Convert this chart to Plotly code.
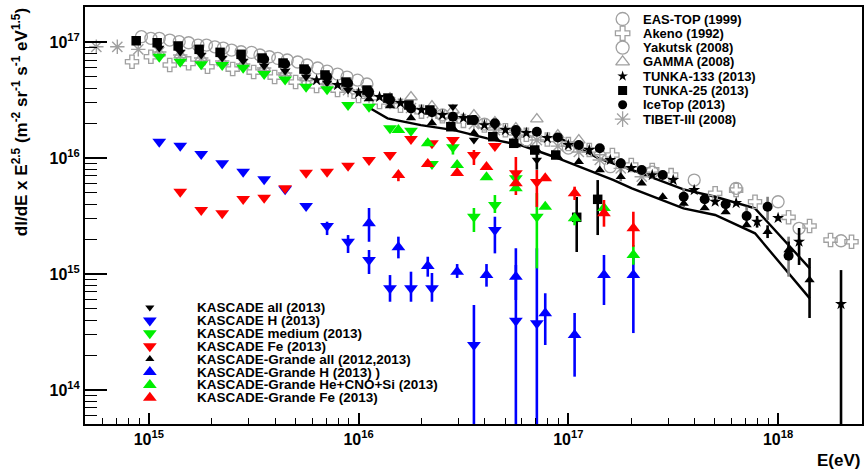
import numpy as np
import plotly.graph_objects as go

# ---------------- data: log10(E/eV) and log10(flux * E^2.5) ----------------
eastop_lgE = [14.965, 15.01, 15.05, 15.10, 15.145, 15.19, 15.235, 15.275, 15.315, 15.355, 15.395, 15.44,
              15.49, 15.53, 15.575, 15.615, 15.66, 15.71, 15.755, 15.805, 15.85, 15.9, 15.945, 15.995, 16.04]
eastop_lgF = [17.046, 17.032, 17.032, 17.017, 17.003, 16.994, 16.974, 16.974, 16.959, 16.948, 16.931, 16.916,
              16.911, 16.888, 16.873, 16.859, 16.845, 16.828, 16.802, 16.776, 16.75, 16.724, 16.698, 16.672, 16.638]

akeno_lgE = [14.92, 15.01, 15.10, 15.19, 15.28, 15.4, 15.5, 15.6, 15.7, 15.8, 15.9, 16.0, 16.1, 16.2, 16.3, 16.4,
             16.5, 16.6, 16.7, 16.8, 16.9, 17.0, 17.1, 17.21, 17.3, 17.4, 17.49, 17.7, 17.8, 17.89, 18.05, 18.15,
             18.25, 18.35]
akeno_lgF = [16.83, 16.873, 16.802, 16.816, 16.787, 16.767, 16.741, 16.698, 16.655, 16.621, 16.586, 16.534,
             16.483, 16.45, 16.40, 16.36, 16.32, 16.28, 16.24, 16.2, 16.16, 16.12, 16.07, 16.026, 15.94, 15.897,
             15.853, 15.696, 15.724, 15.623, 15.489, 15.414, 15.293, 15.278]

yakutsk_lgE = [16.4, 16.6, 16.8, 17.0, 17.2, 17.4, 17.6, 17.8, 18.0, 18.1, 18.3]
yakutsk_lgF = [16.371, 16.293, 16.155, 16.086, 15.925, 15.879, 15.81, 15.739, 15.623, 15.394, 15.287]

gamma_lgE = [15.05, 15.15, 15.25, 15.35, 15.45, 15.55, 15.65, 15.75, 15.85, 15.95, 16.05, 16.15, 16.25, 16.35,
             16.45, 16.55, 16.65, 16.75, 16.85, 16.95, 17.05, 17.15]
gamma_lgF = [16.905, 16.888, 16.862, 16.828, 16.81, 16.776, 16.733, 16.69, 16.655, 16.603, 16.56, 16.517, 16.526,
             16.448, 16.414, 16.371, 16.31, 16.259, 16.336, 16.198, 16.155, 16.052]

tibet_lgE = [14.75, 14.85, 14.95, 15.05, 15.15, 15.25, 15.35, 15.45, 15.55, 15.65, 15.75, 15.85, 15.95, 16.05,
             16.15, 16.25, 16.35, 16.45, 16.55, 16.65, 16.75, 16.85, 16.95, 17.05, 17.15, 17.25, 17.35]
tibet_lgF = [16.959, 16.959, 16.937, 16.914, 16.888, 16.862, 16.836, 16.81, 16.776, 16.733, 16.69, 16.638, 16.586,
             16.534, 16.483, 16.431, 16.388, 16.345, 16.293, 16.241, 16.198, 16.155, 16.103, 16.052, 15.983, 15.911,
             15.839]

tunka133_lgE = [15.8, 15.9, 16.0, 16.1, 16.2, 16.3, 16.4, 16.5, 16.6, 16.7, 16.8, 16.9, 17.0, 17.1, 17.2, 17.3,
                17.4, 17.5, 17.6, 17.7, 17.8, 17.9, 18.0, 18.1, 18.3]
tunka133_lgF = [16.672, 16.629, 16.56, 16.526, 16.474, 16.414, 16.371, 16.345, 16.284, 16.241, 16.216, 16.172,
                16.112, 16.069, 15.983, 15.914, 15.853, 15.81, 15.724, 15.623, 15.612, 15.451, 15.483, 15.278, 14.741]
tunka133_hi = [None] * 21 + [15.50, None, 15.397, 15.034]
tunka133_lo = [None] * 21 + [15.40, None, 15.078, 13.0]

tunka25_lgE = [14.94, 15.04, 15.14, 15.24, 15.34, 15.44, 15.54, 15.64, 15.74, 15.84, 15.94, 16.04, 16.14, 16.24,
               16.34, 16.44, 16.54, 16.64, 16.74, 16.84, 16.94, 17.04, 17.14]
tunka25_lgF = [17.011, 16.994, 16.966, 16.937, 16.911, 16.894, 16.862, 16.819, 16.767, 16.716, 16.655, 16.586,
               16.517, 16.457, 16.414, 16.27, 16.328, 16.184, 16.127, 16.069, 16.026, 15.489, 15.644]
tunka25_hi = [None] * 21 + [15.664, 15.81]
tunka25_lo = [None] * 21 + [15.19, 15.336]

icetop_lgE = [15.55, 15.65, 15.75, 15.85, 15.95, 16.05, 16.15, 16.25, 16.35, 16.45, 16.55, 16.65, 16.75, 16.85,
              16.95, 17.05, 17.15, 17.25, 17.35, 17.45, 17.55, 17.65, 17.75, 17.85, 17.95, 18.05]
icetop_lgF = [16.851, 16.81, 16.759, 16.70, 16.644, 16.572, 16.50, 16.428, 16.394, 16.356, 16.328, 16.30, 16.241,
              16.227, 16.178, 16.112, 16.084, 15.954, 15.897, 15.853, 15.666, 15.644, 15.601, 15.50, 15.58, 15.158]
icetop_hi = [None] * 17 + [16.0, None, None, 15.741, None, None, 15.58, 15.666, 15.322]
icetop_lo = [None] * 17 + [15.80, None, None, 15.578, None, None, 15.408, 15.466, 14.977]

kas_lgE = [15.05, 15.15, 15.25, 15.35, 15.45, 15.55, 15.65, 15.75, 15.85, 15.95, 16.05, 16.15, 16.25, 16.35,
           16.45, 16.55, 16.65, 16.75, 16.85]
kas_all_lgF = [16.948, 16.914, 16.888, 16.862, 16.836, 16.793, 16.75, 16.698, 16.647, 16.586, 16.534, 16.483,
               16.431, 16.397, 16.442, 16.155, 16.276, 16.198, 15.983]
kas_all_hi = [None] * 17 + [16.25, 16.05]
kas_all_lo = [None] * 17 + [16.10, 15.90]

kas_h_lgE = [15.05, 15.15, 15.25, 15.35, 15.45, 15.55, 15.65, 15.75, 15.85, 15.95, 16.05, 16.15, 16.25, 16.35,
             16.55, 16.65, 16.75, 16.85]
kas_h_lgF = [16.141, 16.106, 16.034, 15.954, 15.882, 15.816, 15.73, 15.586, 15.414, 15.278, 15.121, 14.877,
             14.877, 14.877, 14.388, 15.379, 14.597, 14.575]
kas_h_hi = [None] * 8 + [15.451, 15.336, 15.207, 14.991, 15.02, 15.009, 14.733, 15.494, 15.222, 15.222]
kas_h_lo = [None] * 8 + [15.336, 15.181, 15.0, 14.761, 14.761, 14.761, 13.0, 15.178, 13.0, 13.0]

kas_med_lgF = [16.873, 16.83, 16.808, 16.802, 16.778, 16.724, 16.678, 16.615, 16.592, 16.457, 16.442, 16.256,
               16.235, 15.948, 16.092, 15.494, 15.595, 15.825, 15.494]
kas_med_hi = [None] * 14 + [16.12, 15.569, 15.681, 15.86, 15.698]
kas_med_lo = [None] * 14 + [16.03, 15.362, 15.526, 15.79, 15.049]

kas_fe_lgE = [15.15, 15.25, 15.35, 15.45, 15.55, 15.65, 15.75, 15.85, 15.95, 16.05, 16.15, 16.25, 16.35, 16.45,
              16.55, 16.65, 16.75, 16.85]
kas_fe_lgF = [15.709, 15.552, 15.523, 15.647, 15.658, 15.739, 15.873, 15.882, 15.934, 15.983, 16.026, 16.164,
              16.127, 16.155, 16.026, 16.103, 15.868, 15.793]
kas_fe_hi = [None] * 14 + [16.069, None, 16.009, 15.897]
kas_fe_lo = [None] * 14 + [15.94, None, 15.681, 15.578]

kg_all_lgE = [16.05, 16.15, 16.25, 16.35, 16.45, 16.55, 16.65, 16.75, 16.85, 16.95, 17.05, 17.15, 17.25, 17.35,
              17.45, 17.55, 17.65, 17.75, 17.85, 17.95, 18.05, 18.15]
kg_all_lgF = [16.509, 16.448, 16.345, 16.302, 16.259, 16.216, 16.172, 16.112, 16.069, 16.011, 15.968, 15.897,
              15.839, 15.782, 15.666, 15.609, 15.569, 15.534, 15.422, 15.365, 15.207, 14.948]
kg_all_hi = [None] * 19 + [15.42, 15.28, 15.138]
kg_all_lo = [None] * 19 + [15.31, 15.13, 14.621]

kg_h_lgE = [16.05, 16.19, 16.33, 16.47, 16.61, 16.75, 16.89, 17.03, 17.17, 17.31]
kg_h_lgF = [15.437, 15.23, 15.069, 15.02, 14.991, 14.977, 14.661, 14.474, 14.991, 14.991]
kg_h_hi = [15.569, 15.322, 15.149, 15.086, 15.086, 15.078, 14.834, 14.664, 15.164, 15.164]
kg_h_lo = [15.278, 15.135, 14.977, 14.966, 14.891, 14.776, 14.388, 14.115, 14.733, 14.491]

kg_lgE = [16.19, 16.33, 16.47, 16.61, 16.75, 16.89, 17.03, 17.17, 17.31]
kg_med_lgF = [16.241, 16.127, 15.94, 15.834, 15.739, 15.58, 15.48, 15.569, 15.164]
kg_med_hi = [None] * 6 + [15.52, None, 15.25]
kg_med_lo = [None] * 6 + [15.42, None, 15.08]
kg_fe_lgF = [15.853, 15.948, 15.871, 15.922, 15.782, 15.825, 15.696, 15.523, 15.394]
kg_fe_hi = [15.88, None, None, None, None, None, 15.753, 15.638, 15.537]
kg_fe_lo = [15.80, None, None, None, None, None, 15.638, 15.408, 15.235]

band_low_lgE = [16.043, 16.138, 16.297, 16.455, 16.613, 16.772, 16.931, 17.089, 17.216, 17.303, 17.549, 17.70,
                17.89, 18.151]
band_low_lgF = [16.442, 16.342, 16.284, 16.241, 16.17, 16.112, 16.011, 15.897, 15.81, 15.739, 15.566, 15.509,
                15.351, 14.79]
band_up_lgE = [16.931, 17.145, 17.303, 17.549, 17.70, 17.89, 18.151]
band_up_lgF = [16.198, 15.997, 15.897, 15.73, 15.666, 15.566, 15.049]

top_legend = ["EAS-TOP (1999)", "Akeno (1992)", "Yakutsk (2008)", "GAMMA (2008)", "TUNKA-133 (2013)",
              "TUNKA-25 (2013)", "IceTop (2013)", "TIBET-III (2008)"]
low_legend = ["KASCADE all (2013)", "KASCADE H (2013)", "KASCADE medium (2013)", "KASCADE Fe (2013)",
              "KASCADE-Grande all (2012,2013)", "KASCADE-Grande H (2013) )", "KASCADE-Grande He+CNO+Si (2013)",
              "KASCADE-Grande Fe (2013)"]

# ---------------- styles ----------------
GRAY = "#a0a0a0"
BLUE = "#0000ff"
GREEN = "#00ee00"
RED = "#ff0000"
FONT = "Liberation Sans, Arial, Helvetica, sans-serif"

# plot-area geometry in pixels (for placing decorations)
L, R, T, B = 85, 864, 7, 424
W, H = 866, 476

fig = go.Figure()


def add_series(lgE, lgF, symbol, color, size, hi=None, lo=None, ecolor=None, open_=False, lw=1.3):
    x = 10 ** np.array(lgE, dtype=float)
    y = 10 ** np.array(lgF, dtype=float)
    err = None
    if hi is not None:
        up = [(10 ** h - yy) if h is not None else 0 for h, yy in zip(hi, y)]
        dn = [(yy - 10 ** l) if l is not None else 0 for l, yy in zip(lo, y)]
        err = dict(type="data", symmetric=False, array=up, arrayminus=dn,
                   color=ecolor or color, thickness=2.6, width=0)
    marker = dict(symbol=symbol, size=size, color=color)
    if open_:
        marker["line"] = dict(color=color, width=lw)
    else:
        marker["line"] = dict(width=0)
    fig.add_trace(go.Scatter(x=x, y=y, mode="markers", marker=marker, error_y=err,
                             showlegend=False, hoverinfo="x+y", cliponaxis=True))


# systematic band lines (drawn first so the data sit on top)
for lgE, lgF in [(band_low_lgE, band_low_lgF), (band_up_lgE, band_up_lgF)]:
    fig.add_trace(go.Scatter(x=10 ** np.array(lgE), y=10 ** np.array(lgF), mode="lines",
                             line=dict(color="black", width=2.4), showlegend=False, hoverinfo="skip"))

# grey reference data
add_series(eastop_lgE, eastop_lgF, "circle-open", GRAY, 12, open_=True)
add_series(akeno_lgE, akeno_lgF, "cross-open", GRAY, 11, open_=True)
add_series(yakutsk_lgE, yakutsk_lgF, "circle-open", GRAY, 12, open_=True)
add_series(gamma_lgE, gamma_lgF, "triangle-up-open", GRAY, 11, open_=True)
add_series(tibet_lgE, tibet_lgF, "asterisk-open", GRAY, 12, open_=True, lw=1.4)
# black all-particle data
add_series(tunka133_lgE, tunka133_lgF, "star", "black", 9, tunka133_hi, tunka133_lo)
add_series(tunka25_lgE, tunka25_lgF, "square", "black", 9.5, tunka25_hi, tunka25_lo)
add_series(icetop_lgE, icetop_lgF, "circle", "black", 10, icetop_hi, icetop_lo, ecolor="#808080")

add_series(kas_lgE, kas_all_lgF, "triangle-down", "black", 9, kas_all_hi, kas_all_lo)
add_series(kg_all_lgE, kg_all_lgF, "triangle-up", "black", 9, kg_all_hi, kg_all_lo)
add_series(kas_h_lgE, kas_h_lgF, "triangle-down", BLUE, 12, kas_h_hi, kas_h_lo)
add_series(kas_lgE, kas_med_lgF, "triangle-down", GREEN, 12, kas_med_hi, kas_med_lo)
add_series(kas_fe_lgE, kas_fe_lgF, "triangle-down", RED, 12, kas_fe_hi, kas_fe_lo)
add_series(kg_h_lgE, kg_h_lgF, "triangle-up", BLUE, 12, kg_h_hi, kg_h_lo)
add_series(kg_lgE, kg_med_lgF, "triangle-up", GREEN, 12, kg_med_hi, kg_med_lo)
add_series(kg_lgE, kg_fe_lgF, "triangle-up", RED, 12, kg_fe_hi, kg_fe_lo)

# ---------------- hand-drawn legends on a pixel overlay axis ----------------
top_sym = [("circle-open", GRAY, 13, True), ("cross-open", GRAY, 12, True), ("circle-open", GRAY, 13, True),
           ("triangle-up-open", GRAY, 12, True), ("star", "black", 8, False), ("square", "black", 9, False),
           ("circle", "black", 9, False), ("asterisk-open", GRAY, 13, True)]
low_sym = [("triangle-down", "black", 8), ("triangle-down", BLUE, 12), ("triangle-down", GREEN, 12),
           ("triangle-down", RED, 12), ("triangle-up", "black", 8), ("triangle-up", BLUE, 12),
           ("triangle-up", GREEN, 12), ("triangle-up", RED, 12)]

top_x_mark, top_x_text, top_y0, top_dy = 624, 642, 19, 14.3
low_x_mark, low_x_text, low_y0, low_dy = 150, 195, 307.5, 12.9


def px2paper(px, py):
    return (px - L) / (R - L), (B - py) / (B - T)


annotations = []
for i, (label, (sym, col, sz, op)) in enumerate(zip(top_legend, top_sym)):
    yy = top_y0 + i * top_dy
    fig.add_trace(go.Scatter(x=[top_x_mark], y=[yy], xaxis="x2", yaxis="y2", mode="markers",
                             marker=dict(symbol=sym, size=sz, color=col,
                                         line=dict(color=col, width=1.3 if op else 0)),
                             showlegend=False, hoverinfo="skip"))
    annotations.append(dict(x=top_x_text, y=yy, xref="x2", yref="y2", text="<b>%s</b>" % label,
                            showarrow=False, xanchor="left", yanchor="middle",
                            font=dict(family=FONT, size=13, color="black")))
for i, (label, (sym, col, sz)) in enumerate(zip(low_legend, low_sym)):
    yy = low_y0 + i * low_dy
    fig.add_trace(go.Scatter(x=[low_x_mark], y=[yy], xaxis="x2", yaxis="y2", mode="markers",
                             marker=dict(symbol=sym, size=sz, color=col, line=dict(width=0)),
                             showlegend=False, hoverinfo="skip"))
    annotations.append(dict(x=low_x_text, y=yy, xref="x2", yref="y2", text="<b>%s</b>" % label,
                            showarrow=False, xanchor="left", yanchor="middle",
                            font=dict(family=FONT, size=13.5, color="black")))

tx, ty = px2paper(20, 6)
annotations.append(dict(x=tx, y=ty, xref="paper", yref="paper", textangle=-90,
                        text="<b>dI/dE x E<sup>2.5</sup> (m<sup>-2</sup> sr<sup>-1</sup> s<sup>-1</sup> eV<sup>1.5</sup>)</b>",
                        showarrow=False, xanchor="center", yanchor="top",
                        font=dict(family=FONT, size=17, color="black")))
ex, ey = px2paper(864, 461)
annotations.append(dict(x=ex, y=ey, xref="paper", yref="paper", text="<b>E(eV)</b>",
                        showarrow=False, xanchor="right", yanchor="middle",
                        font=dict(family=FONT, size=17, color="black")))

x_ticks = [1e15, 1e16, 1e17, 1e18]
y_ticks = [1e14, 1e15, 1e16, 1e17]
minor_vals = [k * 10.0 ** n for n in range(13, 19) for k in range(2, 10)]

axis_common = dict(type="log", showgrid=False, zeroline=False, showline=True, linecolor="black",
                   linewidth=2, mirror=True, ticks="inside", tickcolor="black", tickwidth=1.5,
                   tickfont=dict(family=FONT, size=16, color="black"), tickmode="array")

fig.update_layout(
    width=W, height=H,
    margin=dict(l=L, r=W - R, t=T, b=H - B),
    paper_bgcolor="white", plot_bgcolor="white",
    showlegend=False,
    xaxis=dict(axis_common, range=[14.696, 18.400], tickvals=x_ticks,
               ticktext=["<b>10<sup>%d</sup></b>" % int(round(np.log10(v))) for v in x_ticks],
               ticklen=11,
               minor=dict(tickmode="array", tickvals=minor_vals, ticks="inside", ticklen=6,
                          tickwidth=1.2, tickcolor="black", showgrid=False)),
    yaxis=dict(axis_common, range=[13.707, 17.302], tickvals=y_ticks,
               ticktext=["<b>10<sup>%d</sup></b>" % int(round(np.log10(v))) for v in y_ticks],
               ticklen=22,
               minor=dict(tickmode="array", tickvals=minor_vals, ticks="inside", ticklen=12,
                          tickwidth=1.2, tickcolor="black", showgrid=False)),
    xaxis2=dict(overlaying="x", anchor="y2", range=[L, R], visible=False, showgrid=False),
    yaxis2=dict(overlaying="y", anchor="x2", range=[B, T], visible=False, showgrid=False),
    annotations=annotations,
)

# remove the browser's default page margin so the 866x476 figure fills the window exactly
fig.write_html("out.html",
               config={"displayModeBar": False, "responsive": False},
               post_script="document.body.style.margin='0px';document.body.style.overflow='hidden';")
